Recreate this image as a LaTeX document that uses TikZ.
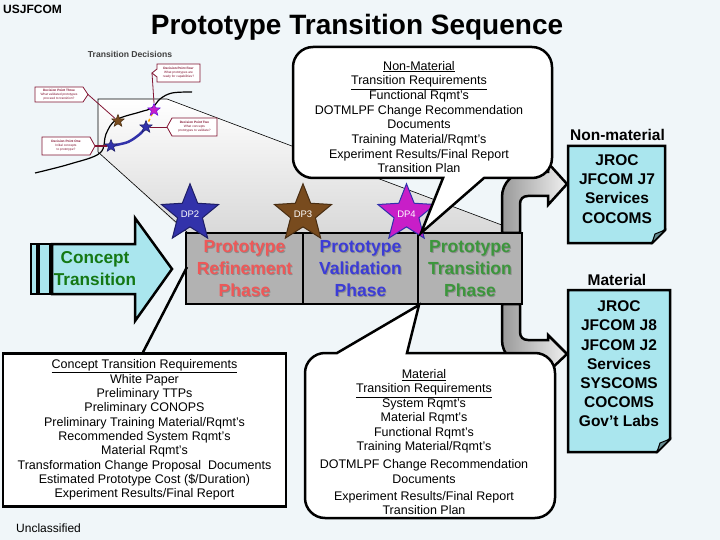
\documentclass[tikz,border=0pt]{standalone}
\usepackage{fontspec}
\setmainfont{Liberation Sans}
\usetikzlibrary{shapes.geometric}
\definecolor{bg}{RGB}{240,246,249}
\definecolor{cyanfill}{RGB}{170,230,238}
\definecolor{phasegray}{RGB}{178,178,178}
\definecolor{refred}{RGB}{238,88,88}
\definecolor{valblue}{RGB}{60,60,215}
\definecolor{trgreen}{RGB}{60,150,60}
\definecolor{ctgreen}{RGB}{20,120,20}
\definecolor{dptwo}{RGB}{50,50,170}
\definecolor{dpthree}{RGB}{120,75,30}
\definecolor{dpfour}{RGB}{200,30,200}
\definecolor{dpred}{RGB}{130,20,50}
\newcommand{\myfs}[2]{\fontsize{#1}{#2}\selectfont}
\begin{document}
\begin{tikzpicture}[x=1pt,y=-1pt,
  phasebox/.style={draw, line width=2.5pt, fill=phasegray, minimum height=71, inner sep=0},
  phasetext/.style={align=center, inner sep=0, font=\myfs{17.5}{22}\bfseries},
  dpstar/.style={star, star points=5, star point ratio=2.3, minimum size=47, inner sep=0, line width=1pt, text=white, font=\myfs{9.5}{10}},
  minstar/.style={star, star points=5, star point ratio=2.3, minimum size=13, inner sep=0, line width=0.5pt},
  dpcall/.style={draw=dpred, line width=0.8pt, fill=white},
  dplink/.style={draw=dpred, line width=0.8pt},
  dptext/.style={text=dpred, font=\myfs{3.2}{3.9}, align=center, inner sep=0},
  reqtext/.style={align=center, inner sep=0, font=\myfs{12.5}{14.5}},
  orgtext/.style={align=center, inner sep=0, font=\myfs{15.5}{19.2}\bfseries},
  heavy/.style={line width=2.5pt, line join=miter},
  grayarrow/.style={heavy, left color=black!40, right color=black!6},
  zoomline/.style={line width=0.6pt}
]
\useasboundingbox (0,0) rectangle (720,540);
\fill[bg] (0,0) rectangle (720,540);

% projection of the inset onto the phases
\shade[top color=white, bottom color=black!15] (98,99) -- (167,99) -- (523,233) -- (186,233) -- (98,152) -- cycle;
\coordinate (ztl) at (98,99);
\coordinate (ztr) at (167,99);
\coordinate (zbl) at (98,152);
\coordinate (ptr) at (523,233);
\coordinate (ptl) at (188,233);
\draw[zoomline] (zbl) -- (ztl) -- (ztr) -- (ptr);
\draw[zoomline] (zbl) -- (ptl);

% titles
\node[anchor=base west, inner sep=0, font=\myfs{12}{14}\bfseries] (org) at (3,14) {USJFCOM};
\node[anchor=base, inner sep=0, font=\myfs{28}{32}\bfseries] (title) at (357,35) {Prototype Transition Sequence};
\node[anchor=base west, inner sep=0, font=\myfs{12}{14}] (uncl) at (16,532) {Unclassified};

% inset: transition decisions
\node[font=\myfs{8.6}{10}\bfseries, text=black!75, inner sep=0] (tdtitle) at (130,54) {Transition Decisions};
\draw[line width=1.2pt] plot[smooth, tension=0.6] coordinates {(35,173) (70,164) (100,153) (106,134) (116,120) (140,112) (152,108) (160,99) (172,93) (192,92)};
\draw[line width=2.5pt, dptwo] plot[smooth] coordinates {(111,146) (128,142) (140,134) (146,127)};
\draw[line width=1.5pt, dashed, orange!70!yellow] (146,127) -- (154,110);

\draw[dpcall] (157,64) -- (200,64) -- (200,82) -- (157,82) -- (157,77) -- (152,73) -- (157,69) -- cycle;
\node[dptext] (t4) at (178.5,73) {\textbf{Decision Point Four}\\What prototypes are\\ready for capabilities?};
\draw[dpcall] (35,87) -- (83,87) -- (88,94.5) -- (83,102) -- (35,102) -- cycle;
\node[dptext] (t3) at (59,94.5) {\textbf{Decision Point Three}\\What validated prototypes\\proceed to transition?};
\draw[dpcall] (172,118) -- (217,118) -- (217,136) -- (172,136) -- (167,127) -- cycle;
\node[dptext] (t2) at (194.5,127) {\textbf{Decision Point Two}\\What concepts\\prototypes to validate?};
\draw[dpcall] (42,137) -- (90,137) -- (95,146) -- (90,155) -- (42,155) -- cycle;
\node[dptext] (t1) at (66,146) {\textbf{Decision Point One}\\Initial concepts\\to prototype?};
\coordinate (c4) at (152,73);
\coordinate (c3) at (88,94.5);
\coordinate (c2) at (167,127);
\coordinate (c1) at (95,146);

\node[minstar, fill=dptwo, draw=dptwo!60!black] (s1) at (111,146) {};
\node[minstar, fill=dpthree, draw=dpthree!60!black] (s3) at (118,121) {};
\node[minstar, fill=dptwo, draw=dptwo!60!black] (s2) at (146,127) {};
\node[minstar, fill=dpfour, draw=dpfour!50!blue] (s4) at (154,110) {};
\draw[dplink] (c4) -- (s4.north);
\draw[dplink] (c3) -- (s3);
\draw[dplink] (c2) -- (s2);
\draw[dpred, line width=2pt] (c1) -- (s1);

% concept transition arrow
\draw[heavy, fill=cyanfill] (31,244) rectangle (37,294);
\draw[heavy, fill=cyanfill] (39,244) rectangle (50,294);
\draw[heavy, fill=cyanfill] (52,244) -- (135,244) -- (135,218) -- (172,269) -- (135,321) -- (135,294) -- (52,294) -- cycle;
\node[align=center, inner sep=0, text=ctgreen, font=\myfs{17.2}{22}\bfseries] (concept) at (95,269) {Concept\\Transition};

% gray curved arrows
\draw[grayarrow] (502,233) -- (502,197) .. controls (502,183) and (513,172) .. (527,172) -- (548,172) -- (548,163) -- (567,184) -- (548,205) -- (548,196) -- (528,196) .. controls (523,196) and (520,199) .. (520,204) -- (520,233) -- cycle;
\draw[grayarrow] (502,304) -- (502,340) .. controls (502,354) and (513,365) .. (527,365) -- (548,365) -- (548,372) -- (567,354) -- (548,335) -- (548,340) -- (528,340) .. controls (523,340) and (520,337) .. (520,332) -- (520,304) -- cycle;

% phases
\node[phasebox, minimum width=117] (refine) at (244.5,268.5) {};
\node[phasebox, minimum width=115] (valid) at (360.5,268.5) {};
\node[phasebox, minimum width=104] (trans) at (470,268.5) {};
\node[phasetext, text=black!45] (refsh) at ([shift={(0.9,0.9)}]refine.center) {Prototype\\Refinement\\Phase};
\node[phasetext, text=black!45] (valsh) at ([shift={(0.9,0.9)}]valid.center) {Prototype\\Validation\\Phase};
\node[phasetext, text=black!45] (trsh) at ([shift={(0.9,0.9)}]trans.center) {Prototype\\Transition\\Phase};
\node[phasetext, text=refred] (reftxt) at (refine.center) {Prototype\\Refinement\\Phase};
\node[phasetext, text=valblue] (valtxt) at (valid.center) {Prototype\\Validation\\Phase};
\node[phasetext, text=trgreen] (trtxt) at (trans.center) {Prototype\\Transition\\Phase};

% decision point stars
\node[dpstar, fill=dptwo, draw=dptwo!60!black] (dp2) at (190,213.8) {DP2};
\node[dpstar, fill=dpthree, draw=dpthree!60!black] (dp3) at (303,213.8) {DP3};
\node[dpstar, fill=dpfour, draw=valblue!80!black] (dp4) at (406.5,213.8) {DP4};

% non-material callout
\draw[heavy, fill=white] (443,178) -- (421,233) -- (484,178) -- (532,178) .. controls (543,178) and (552,169) .. (552,158) -- (552,67) .. controls (552,56) and (543,47) .. (532,47) -- (313,47) .. controls (302,47) and (293,56) .. (293,67) -- (293,158) .. controls (293,169) and (302,178) .. (313,178) -- cycle;
\node[reqtext, font=\myfs{12.5}{14.7}] (nmreq) at (419,117) {\underline{Non-Material}\\\underline{Transition Requirements}\\Functional Rqmt's\\DOTMLPF Change Recommendation\\Documents\\Training Material/Rqmt's\\Experiment Results/Final Report\\Transition Plan};

% material callout
\draw[heavy, fill=white] (337,353) -- (419,305) -- (407,353) -- (535,353) .. controls (546,353) and (555,362) .. (555,373) -- (555,498) .. controls (555,509) and (546,518) .. (535,518) -- (325,518) .. controls (314,518) and (305,509) .. (305,498) -- (305,373) .. controls (305,362) and (314,353) .. (325,353) -- cycle;
\node[reqtext] (mreq) at (424,442) {\underline{Material}\\\underline{Transition Requirements}\\System Rqmt's\\Material Rqmt's\\Functional Rqmt's\\Training Material/Rqmt's\\[3.5pt]DOTMLPF Change Recommendation\\Documents\\[2.5pt]Experiment Results/Final Report\\Transition Plan};

% concept requirements box
\node[draw, heavy, fill=white, minimum width=283, minimum height=153, reqtext, font=\myfs{12.5}{14.35}] (creq) at (144.5,430) {\underline{Concept Transition Requirements}\\White Paper\\Preliminary TTPs\\Preliminary CONOPS\\Preliminary Training Material/Rqmt's\\Recommended System Rqmt's\\Material Rqmt's\\Transformation Change Proposal\ \ Documents\\Estimated Prototype Cost (\$/Duration)\\Experiment Results/Final Report};
\coordinate (ctip) at (187,267);
\draw[heavy] ([xshift=-1.5pt]creq.north) -- (ctip);

% organisations
\node[inner sep=0, font=\myfs{15.5}{18}\bfseries] (nmlab) at (617.5,135) {Non-material};
\draw[heavy, fill=cyanfill] (568,146) -- (665,146) -- (665,230) -- (652,243) -- (568,243) -- cycle;
\filldraw[line width=1pt, fill=cyanfill!60!black] (652,243) -- (665,230) -- (655,234) -- cycle;
\node[orgtext] (nmorg) at (617,189) {JROC\\JFCOM J7\\Services\\COCOMS};

\node[inner sep=0, font=\myfs{15.5}{18}\bfseries] (mlab) at (617,280) {Material};
\draw[heavy, fill=cyanfill] (568,290) -- (670,290) -- (670,439) -- (657,452) -- (568,452) -- cycle;
\filldraw[line width=1pt, fill=cyanfill!60!black] (657,452) -- (670,439) -- (660,443) -- cycle;
\node[orgtext] (morg) at (619,364) {JROC\\JFCOM J8\\JFCOM J2\\Services\\SYSCOMS\\COCOMS\\Gov’t Labs};
\end{tikzpicture}
\end{document}
